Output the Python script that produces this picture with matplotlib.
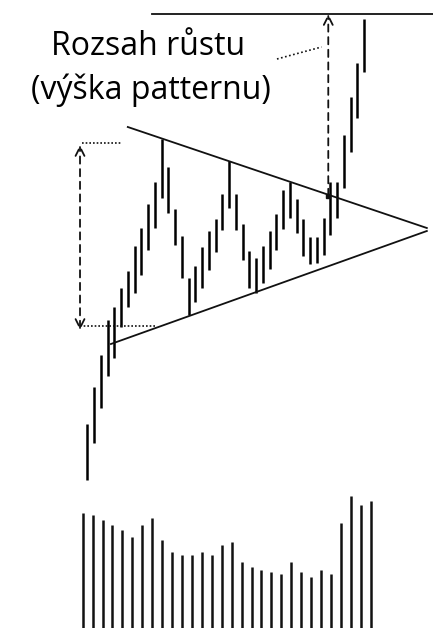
import numpy as np
import matplotlib.pyplot as plt

# price bars (arbitrary price units), one per session
highs = [ 56, 93, 125, 160, 173, 192, 209, 234, 252, 276, 298, 341, 313, 271, 244, 202, 214, 233,
          249, 261, 286, 319, 286, 256, 229, 222, 234, 249, 266, 290, 298, 281, 261, 243, 243, 262,
          298, 298, 345, 383, 417, 461 ]
lows = [ 0, 37, 72, 104, 122, 153, 173, 187, 205, 230, 252, 282, 267, 235, 202, 165, 178, 192,
         210, 228, 250, 272, 250, 220, 192, 187, 197, 211, 230, 251, 262, 247, 224, 216, 217, 225,
         245, 262, 292, 328, 362, 408 ]

# volume under the pattern
volume = [ 115, 113, 108, 103, 98, 91, 103, 110, 88, 76, 73, 73, 76, 73, 83, 86, 66, 61, 58, 56,
           54, 66, 56, 51, 58, 54, 105, 132, 123, 127 ]

# pattern lines ( bar index, price )
upper_trend = ( [ 6.0, 50.3 ], [ 353, 252 ] )
lower_trend = ( [ 3.5, 50.3 ], [ 136, 249 ] )
target_line = ( [ 9.6, 52.0 ], [ 466, 466 ] )
height_arrow = ( -1.08, 150, 335 )
height_top = ( [ -0.85, 5.1 ], [ 337, 337 ] )
height_bottom = ( [ -1.08, 10.3 ], [ 154, 154 ] )
move_arrow = ( 35.7, 284, 466 )
label_link = ( [ 28.1, 34.7 ], [ 421, 433 ] )

label_1 = 'Rozsah růstu'
label_2 = '(výška patternu)'

fig = plt.figure( figsize=( 4.33, 6.28 ), dpi=100 )

# price panel
ax = fig.add_axes( [ 0, 0, 1, 1 ] )
ax.set_xlim( -87.3 / 6.75, ( 433 - 87.3 ) / 6.75 )
ax.set_ylim( -148, 480 )
ax.axis( 'off' )

idx = np.arange( len( highs ) )
ax.vlines( idx, lows, highs, colors='#000000', linewidth=1.8 )

ax.plot( *upper_trend, color='#111111', linewidth=1.3 )
ax.plot( *lower_trend, color='#111111', linewidth=1.3 )
ax.plot( *target_line, color='#111111', linewidth=1.3 )

# pattern height
ax.plot( *height_top, color='#111111', linewidth=1.2, linestyle=( 0, ( 1, 1.2 ) ) )
ax.plot( *height_bottom, color='#111111', linewidth=1.2, linestyle=( 0, ( 1, 1.2 ) ) )
x, y0, y1 = height_arrow
ax.annotate( '', xy=( x, y1 ), xytext=( x, y0 ),
             arrowprops=dict( arrowstyle='<->', color='#111111', lw=1.3, linestyle=( 0, ( 4, 3 ) ),
                              shrinkA=0, shrinkB=0, mutation_scale=16 ) )

# projected move
x, y0, y1 = move_arrow
ax.annotate( '', xy=( x, y1 ), xytext=( x, y0 ),
             arrowprops=dict( arrowstyle='->', color='#111111', lw=1.3, linestyle=( 0, ( 4, 3 ) ),
                              shrinkA=0, shrinkB=0, mutation_scale=16 ) )
ax.plot( x, y0, marker='s', markersize=3, color='#111111' )
ax.plot( *label_link, color='#111111', linewidth=1.2, linestyle=( 0, ( 1, 1.5 ) ) )

ax.text( 9.0, 425, label_1, ha='center', va='baseline', fontsize=23, family='Open Sans', color='#000000' )
ax.text( 9.4, 381, label_2, ha='center', va='baseline', fontsize=23, family='Open Sans', color='#000000' )

# volume panel
axv = fig.add_axes( [ 0, 0, 1, 1 ] )
axv.patch.set_alpha( 0 )
axv.set_xlim( -82.7 / 9.93, ( 433 - 82.7 ) / 9.93 )
axv.set_ylim( 0, 628 )
axv.axis( 'off' )
axv.vlines( np.arange( len( volume ) ), 0, volume, colors='#111111', linewidth=1.8 )

fig.savefig( 'out.png', dpi=100 )
